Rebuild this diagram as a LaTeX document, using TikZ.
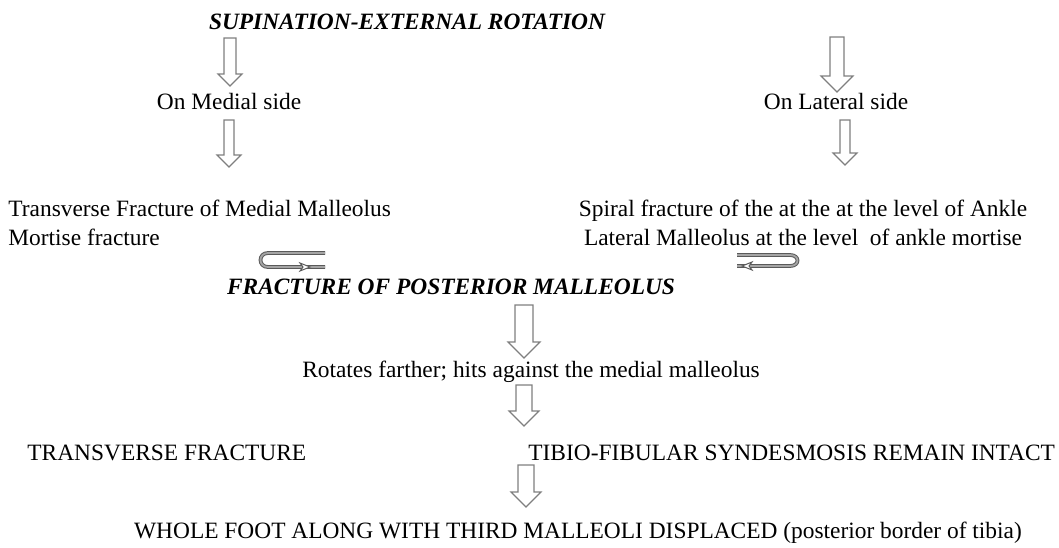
\documentclass[tikz,border=0pt]{standalone}
\usepackage{fontspec}
\setmainfont{Liberation Serif}
\usepackage{xcolor}
\definecolor{arrowgray}{RGB}{127,127,127}
\definecolor{turngray}{RGB}{90,90,90}
\usepackage{tikz}
\usetikzlibrary{positioning}

% hollow block arrow pointing down: length / shaft half width / head half width
\tikzset{
  pics/blockdown/.style args={#1/#2/#3}{code={
    \draw[blockline] (-#2,0) -- (-#2,{#1-#3}) -- (-#3,{#1-#3}) -- (0,#1)
      -- (#3,{#1-#3}) -- (#2,{#1-#3}) -- (#2,0) -- cycle;
  }}
}

\begin{document}
\begin{tikzpicture}[x=0.5pt, y=-0.5pt,
    txt/.style={inner sep=0pt, font=\fontsize{11.7}{14}\selectfont},
    heading/.style={inner sep=0pt, font=\fontsize{11.7}{14}\selectfont\bfseries\itshape},
    blockline/.style={draw=arrowgray, fill=white, line width=0.6pt, line join=miter},
    uturn/.style={draw=turngray, double=arrowgray!70, double distance=0.9pt, line width=0.5pt},
    uturnhead/.style={draw=turngray, fill=white, line width=0.5pt}]
    \useasboundingbox (0,0) rectangle (1059,547);

    % texts
    \node[heading, anchor=base] (title) at (407,29) {SUPINATION-EXTERNAL ROTATION};
    \node[txt, anchor=base] (medial) at (229,109) {On Medial side};
    \node[txt, anchor=base] (lateral) at (836,109) {On Lateral side};
    \node[txt, anchor=base west] (transverse) at (8,216) {Transverse Fracture of Medial Malleolus};
    \node[txt, anchor=base west] (mortise) at (8,245) {Mortise fracture};
    \node[txt, anchor=base] (spiral) at (803,216) {Spiral fracture of the at the at the level of Ankle};
    \node[txt, anchor=base] (lateralmall) at (803,245) {Lateral Malleolus at the level\ \ of ankle mortise};
    \node[heading, anchor=base] (posterior) at (451,294) {FRACTURE OF POSTERIOR MALLEOLUS};
    \node[txt, anchor=base] (rotates) at (531,377) {Rotates farther; hits against the medial malleolus};
    \node[txt, anchor=base west] (transfrac) at (27,460) {TRANSVERSE FRACTURE};
    \node[txt, anchor=base west] (tibio) at (528,460) {TIBIO-FIBULAR SYNDESMOSIS REMAIN INTACT};
    \node[txt, anchor=base] (wholefoot) at (578,538) {WHOLE FOOT ALONG WITH THIRD MALLEOLI DISPLACED (posterior border of tibia)};

    % block arrows
    \pic at (230,38) {blockdown=48/6/12};
    \pic at (229,120) {blockdown=47/5/12};
    \pic at (837,37) {blockdown=55/7/16};
    \pic at (845,120) {blockdown=45/5/12};
    \pic at (524,305) {blockdown=53/9/16};
    \pic at (524,385) {blockdown=41/8/15};
    \pic at (526,465) {blockdown=42/8/15};

    % turning arrows
    \draw[uturn] (325,253) -- (268,253) .. controls (258,253) and (258,267) .. (268,267) -- (325,267);
    \draw[uturnhead] (300,263) -- (310,267) -- (300,271) -- (303,267) -- cycle;
    \draw[uturn] (737,255) -- (790,255) .. controls (800,255) and (800,266) .. (790,266) -- (737,266);
    \draw[uturnhead] (752,262) -- (742,266) -- (752,270) -- (749,266) -- cycle;
\end{tikzpicture}
\end{document}
